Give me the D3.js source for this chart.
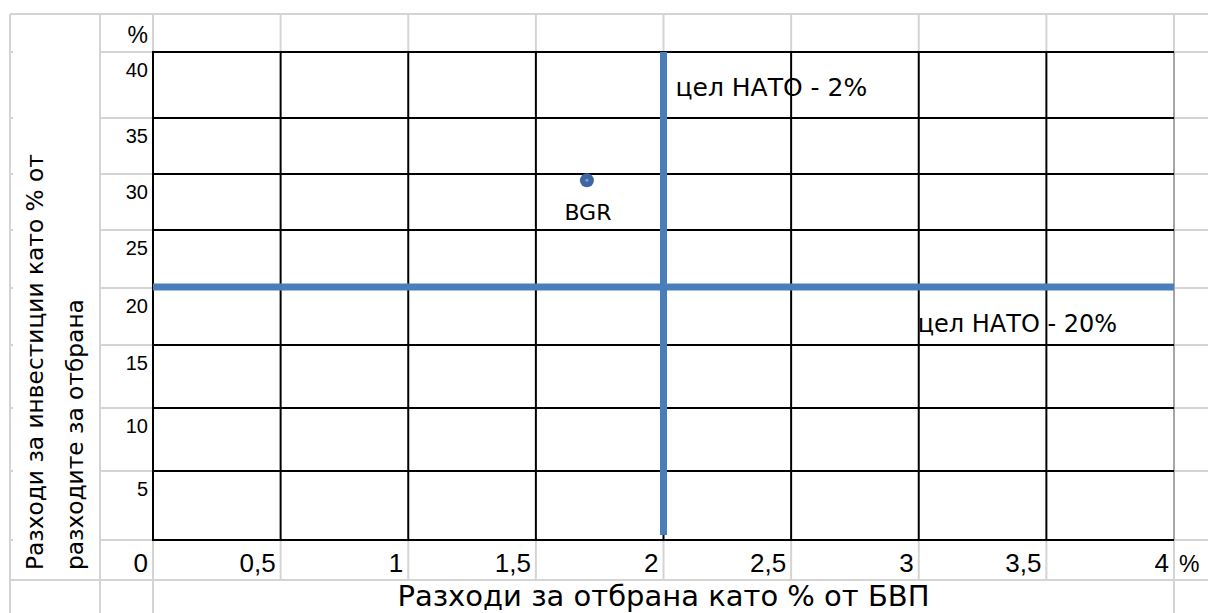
<!DOCTYPE html>
<html>
<head>
<meta charset="utf-8">
<script src="https://cdn.jsdelivr.net/npm/d3@7"></script>
<style>
  html, body { margin: 0; padding: 0; background: #fff; }
  svg { display: block; }
  text { font-family: "Liberation Sans", Arial, sans-serif; fill: #000; }
  .wide { font-family: "DejaVu Sans", Verdana, sans-serif; }
</style>
</head>
<body>
<svg id="chart" width="1208" height="613"></svg>
<script>
// Defence spending (% of GDP) vs. investment share of defence spending (%)
const xTickValues = [0, 0.5, 1, 1.5, 2, 2.5, 3, 3.5, 4];
const xTickLabels = ["0", "0,5", "1", "1,5", "2", "2,5", "3", "3,5", "4"];
const yTickLabels = ["40", "35", "30", "25", "20", "15", "10", "5"];

const countries = ["BGR"];
const defenceShareOfGdp = [1.70];
const investmentShareOfDefence = [28.6];

const natoGdpTarget = 2;          // vertical target line, x = 2 %
const natoInvestTarget = 20;      // horizontal target line, y = 20 %
const gdpTargetSpan = [0, 38.95]; // y-extent of the vertical line
const investTargetSpan = [0, 4];  // x-extent of the horizontal line

const xAxisTitle = "Разходи за отбрана като % от БВП";
const yAxisTitle = ["Разходи за инвестиции като  % от", "разходите за отбрана"];
const gdpTargetLabel = "цел НАТО - 2%";
const investTargetLabel = "цел НАТО - 20%";

// ---- layout of the sheet ----
const sheetLeft = 10, labelColRight = 100, sheetRight = 1208;
const headerTop = 14, gridTop = 52, gridBottom = 540, axisRowBottom = 580, sheetBottom = 613;
const rowEdges = [52, 118, 174, 230, 288, 345, 408, 471, 540];

const svg = d3.select("#chart");

const x = d3.scaleLinear().domain([0, 4]).range([153, 1174]);
const y = d3.scaleLinear().domain([0, 40]).range([535, 39]);

const light = "#d4d4d4";
const g = svg.append("g");

function line(x1, y1, x2, y2, color, w) {
  g.append("line").attr("x1", x1).attr("y1", y1).attr("x2", x2).attr("y2", y2)
    .attr("stroke", color).attr("stroke-width", w);
}

// light sheet gridlines
line(sheetLeft, headerTop, sheetRight, headerTop, light, 2);
line(sheetLeft, axisRowBottom, sheetRight, axisRowBottom, light, 2);
[sheetLeft, labelColRight, x(0)].forEach(px => line(px, headerTop, px, sheetBottom, light, 2));
line(x(4), axisRowBottom, x(4), sheetBottom, light, 2);
xTickValues.slice(1).forEach(v => {
  line(x(v), headerTop, x(v), gridTop, light, 2);
  line(x(v), gridBottom, x(v), axisRowBottom, light, 2);
});
rowEdges.forEach(r => {
  line(labelColRight, r, x(0), r, light, 2);
  line(x(4), r, sheetRight, r, light, 2);
  line(sheetLeft, r, sheetLeft + 3, r, light, 2);
});
line(x(4), gridTop, x(4), gridBottom, "#a6a6a6", 2);

// black cell borders
rowEdges.forEach(r => line(x(0) - 1, r, x(4), r, "#000", 2));
xTickValues.slice(0, -1).forEach(v => line(x(v), gridTop - 1, x(v), gridBottom + 1, "#000", 2));

// tick labels in the sheet cells
g.selectAll(".ylab").data(yTickLabels).join("text")
  .attr("class", "ylab")
  .attr("x", x(0) - 5).attr("y", (d, i) => rowEdges[i] + 25)
  .attr("text-anchor", "end").attr("font-size", 20).text(d => d);
g.append("text").attr("x", x(0) - 5).attr("y", 43)
  .attr("text-anchor", "end").attr("font-size", 23).text("%");

g.selectAll(".xlab").data(xTickLabels).join("text")
  .attr("class", "xlab")
  .attr("x", (d, i) => x(xTickValues[i]) - 5).attr("y", 572)
  .attr("text-anchor", "end").attr("font-size", 26).text(d => d);
g.append("text").attr("x", x(4) + 5).attr("y", 572)
  .attr("font-size", 23).text("%");

// axis titles
g.append("text").attr("class", "wide").attr("x", x(2)).attr("y", 606)
  .attr("text-anchor", "middle").attr("font-size", 29).text(xAxisTitle);
yAxisTitle.forEach((t, i) => {
  const cx = 43 + i * 40;
  g.append("text").attr("class", "wide")
    .attr("transform", `translate(${cx},570) rotate(-90)`)
    .attr("font-size", 23.3).text(t);
});

// NATO target lines
const blue = "#4a7ebb";
const lineGen = d3.line().x(d => x(d[0])).y(d => y(d[1]));
svg.append("path")
  .datum(gdpTargetSpan.map(v => [natoGdpTarget, v]))
  .attr("d", lineGen).attr("stroke", blue).attr("stroke-width", 7).attr("fill", "none");
svg.append("path")
  .datum(investTargetSpan.map(v => [v, natoInvestTarget]))
  .attr("d", lineGen).attr("stroke", blue).attr("stroke-width", 7).attr("fill", "none");

svg.append("text").attr("class", "wide").attr("x", x(natoGdpTarget) + 12).attr("y", 96)
  .attr("font-size", 25).text(gdpTargetLabel);
svg.append("text").attr("class", "wide").attr("x", x(3) - 1).attr("y", y(natoInvestTarget) + 45)
  .attr("font-size", 24).text(investTargetLabel);

// country points
const pts = svg.selectAll(".pt").data(countries).join("g").attr("class", "pt");
pts.append("circle")
  .attr("cx", (d, i) => x(defenceShareOfGdp[i]))
  .attr("cy", (d, i) => y(investmentShareOfDefence[i]))
  .attr("r", 7).attr("fill", "#3d66a3");
pts.append("circle")
  .attr("cx", (d, i) => x(defenceShareOfGdp[i]))
  .attr("cy", (d, i) => y(investmentShareOfDefence[i]))
  .attr("r", 1.5).attr("fill", "#7f9fcf");
pts.append("text").attr("class", "wide")
  .attr("x", (d, i) => x(defenceShareOfGdp[i]) + 1)
  .attr("y", (d, i) => y(investmentShareOfDefence[i]) + 40)
  .attr("text-anchor", "middle").attr("font-size", 22).text(d => d);
</script>
</body>
</html>
